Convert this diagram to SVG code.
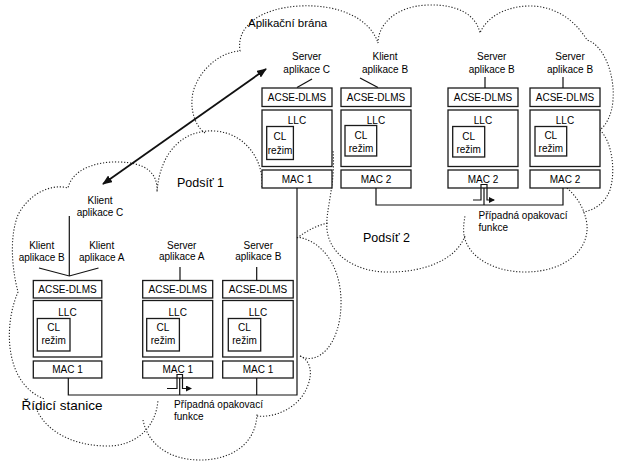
<svg xmlns="http://www.w3.org/2000/svg" width="623" height="469" viewBox="0 0 623 469">
<defs>
<marker id="ah" viewBox="0 0 10 8" refX="9" refY="4" markerWidth="10" markerHeight="8" markerUnits="userSpaceOnUse" orient="auto-start-reverse"><path d="M0,0 L10,4 L0,8 z" fill="#111"/></marker>
<marker id="sa" viewBox="0 0 6 6" refX="5" refY="3" markerWidth="6" markerHeight="6" markerUnits="userSpaceOnUse" orient="auto"><path d="M0,0 L6,3 L0,6 z" fill="#111"/></marker>
</defs>
<style>
.cloud{fill:none;stroke:#222;stroke-width:1.1;stroke-dasharray:1.2 1.8;}
.box{fill:#fff;stroke:#1a1a1a;stroke-width:1.3;}
.ln{fill:none;stroke:#111;stroke-width:1.2;}
.arr{fill:none;stroke:#111;stroke-width:1.8;}
text{font-family:"Liberation Sans",Arial,sans-serif;fill:#000;}
.s{font-size:10px;text-anchor:middle;}
.l{font-size:10px;}
.h{font-size:12.5px;}
</style>
<rect width="623" height="469" fill="#fff"/>
<g id="clouds">
<path class="cloud" d="M205,133 C192,124 188,100 196,84 C204,66 222,52 240,51 C236,25 262,8 300,6 C338,4 370,18 378,43 C378,25 395,6 428,5 C458,4 476,15 480,33 C486,18 505,6 530,6 C555,6 575,20 587,40 C604,45 615,75 613,100 C612,115 606,125 600,130 C612,142 616,170 610,190 C605,203 595,210 583,212"/>
<path class="cloud" d="M567,188 C576,196 585,208 587,225 C589,250 565,272 525,272 C495,272 468,258 464,235 C463,228 464,222 465,216"/>
<path class="cloud" d="M465,236 C455,262 420,273 385,272 C355,271 330,255 327,230 C325,210 336,185 333,150"/>
<path class="cloud" d="M297,238 C308,230 318,225 328,223"/>
<path class="cloud" d="M300,356 C318,366 340,345 341,305 C342,270 325,242 298,237"/>
<path class="cloud" d="M262,187 C264,160 245,133 215,131 C185,129 160,150 157,192 C158,172 145,163 120,162 C95,161 72,170 68,188 C50,183 28,195 18,215 C10,235 11,265 18,292 C8,315 5,350 18,375 C25,388 35,396 45,399"/>
<path class="cloud" d="M36,408 C45,430 70,445 105,446 C135,447 156,428 158,400"/>
<path class="cloud" d="M143,420 C148,445 170,460 200,460 C230,460 256,445 257,414"/>
<path class="cloud" d="M257,416 C275,418 300,408 308,385 C313,372 310,360 300,356"/>
</g>
<g id="cloud-labels">
<text class="h" x="248" y="27" style="font-size:11.5px">Aplikační brána</text>
<text class="h" x="177" y="187">Podsíť 1</text>
<text class="h" x="363" y="241.5">Podsíť 2</text>
<text class="h" x="21.5" y="410" style="font-size:13.5px">Řídicí stanice</text>
<text class="l" x="174" y="407.5">Případná opakovací</text>
<text class="l" x="174" y="419.5">funkce</text>
<text class="l" x="478.5" y="218.5">Případná opakovací</text>
<text class="l" x="478.5" y="230.5">funkce</text>
</g>
<g id="gw-server-c">
<text class="s" x="306.7" y="60">Server</text>
<text class="s" x="306.7" y="73">aplikace C</text>
<rect class="box" x="262" y="88" width="70" height="18.5"/>
<rect class="box" x="262" y="110" width="70" height="56.5"/>
<rect class="box" x="266.7" y="126.5" width="26.7" height="33"/>
<rect class="box" x="262" y="170" width="70" height="18"/>
<text class="s" x="297" y="100.8">ACSE-DLMS</text>
<text class="s" x="297" y="124">LLC</text>
<text class="s" x="280" y="140">CL</text>
<text class="s" x="280" y="153.5">režim</text>
<text class="s" x="297" y="182.5">MAC 1</text>
</g>
<g id="gw-client-b">
<text class="s" x="385" y="60">Klient</text>
<text class="s" x="385" y="73">aplikace B</text>
<rect class="box" x="341" y="88" width="70" height="18.5"/>
<rect class="box" x="341" y="110" width="70" height="56.5"/>
<rect class="box" x="345" y="125.5" width="31.7" height="30.5"/>
<rect class="box" x="341" y="170" width="70" height="18"/>
<text class="s" x="376" y="100.8">ACSE-DLMS</text>
<text class="s" x="376" y="124">LLC</text>
<text class="s" x="361" y="138.5">CL</text>
<text class="s" x="361" y="151.5">režim</text>
<text class="s" x="376" y="182.5">MAC 2</text>
</g>
<g id="sub2-server-b1">
<text class="s" x="491.7" y="60">Server</text>
<text class="s" x="491.7" y="73">aplikace B</text>
<rect class="box" x="448" y="88" width="70" height="18.5"/>
<rect class="box" x="448" y="110" width="70" height="56.5"/>
<rect class="box" x="452.7" y="126.5" width="32" height="30.5"/>
<rect class="box" x="448" y="170" width="70" height="18"/>
<text class="s" x="483" y="100.8">ACSE-DLMS</text>
<text class="s" x="483" y="124">LLC</text>
<text class="s" x="468.7" y="139.5">CL</text>
<text class="s" x="468.7" y="152.5">režim</text>
<text class="s" x="483" y="182.5">MAC 2</text>
</g>
<g id="sub2-server-b2">
<text class="s" x="570" y="60">Server</text>
<text class="s" x="570" y="73">aplikace B</text>
<rect class="box" x="530" y="88" width="70" height="18.5"/>
<rect class="box" x="530" y="110" width="70" height="56.5"/>
<rect class="box" x="535" y="126.5" width="31.7" height="29.5"/>
<rect class="box" x="530" y="170" width="70" height="18"/>
<text class="s" x="565" y="100.8">ACSE-DLMS</text>
<text class="s" x="565" y="124">LLC</text>
<text class="s" x="550.8" y="139">CL</text>
<text class="s" x="550.8" y="152">režim</text>
<text class="s" x="565" y="182.5">MAC 2</text>
</g>
<g id="station-clients">
<text class="s" x="100" y="204">Klient</text>
<text class="s" x="100" y="215.5">aplikace C</text>
<text class="s" x="41.7" y="249">Klient</text>
<text class="s" x="41.7" y="260.5">aplikace B</text>
<text class="s" x="101.7" y="249">Klient</text>
<text class="s" x="101.7" y="260.5">aplikace A</text>
<rect class="box" x="33.3" y="280.5" width="68.5" height="17.5"/>
<rect class="box" x="33.3" y="300.5" width="68.5" height="56.5"/>
<rect class="box" x="37.3" y="318.5" width="32.7" height="32.5"/>
<rect class="box" x="33.3" y="361" width="68.5" height="17"/>
<text class="s" x="67.5" y="292.8">ACSE-DLMS</text>
<text class="s" x="67.5" y="315.5">LLC</text>
<text class="s" x="53.7" y="330.5">CL</text>
<text class="s" x="53.7" y="343.5">režim</text>
<text class="s" x="67.5" y="373">MAC 1</text>
</g>
<g id="sub1-server-a">
<text class="s" x="181.7" y="248.5">Server</text>
<text class="s" x="181.7" y="260">aplikace A</text>
<rect class="box" x="142.7" y="280.5" width="70" height="17.5"/>
<rect class="box" x="142.7" y="300.5" width="70" height="56.5"/>
<rect class="box" x="146.7" y="318.5" width="32.7" height="32.5"/>
<rect class="box" x="142.7" y="361" width="70" height="17"/>
<text class="s" x="177.7" y="292.8">ACSE-DLMS</text>
<text class="s" x="177.7" y="315.5">LLC</text>
<text class="s" x="163" y="330.5">CL</text>
<text class="s" x="163" y="343.5">režim</text>
<text class="s" x="177.7" y="373">MAC 1</text>
</g>
<g id="sub1-server-b">
<text class="s" x="258.3" y="248.5">Server</text>
<text class="s" x="258.3" y="260">aplikace B</text>
<rect class="box" x="222.7" y="280.5" width="70.5" height="17.5"/>
<rect class="box" x="222.7" y="300.5" width="70.5" height="56.5"/>
<rect class="box" x="228.3" y="318.5" width="32.4" height="32.5"/>
<rect class="box" x="222.7" y="361" width="70.5" height="17"/>
<text class="s" x="258" y="292.8">ACSE-DLMS</text>
<text class="s" x="258" y="315.5">LLC</text>
<text class="s" x="244.5" y="330.5">CL</text>
<text class="s" x="244.5" y="343.5">režim</text>
<text class="s" x="258" y="373">MAC 1</text>
</g>
<g id="connectors">
<line class="ln" x1="297" y1="87.5" x2="312" y2="79"/>
<line class="ln" x1="360" y1="78" x2="378" y2="87.5"/>
<line class="ln" x1="485" y1="77" x2="485" y2="88"/>
<line class="ln" x1="563" y1="77" x2="563" y2="88"/>
<line class="ln" x1="69.3" y1="216" x2="69.3" y2="276"/>
<path class="ln" d="M39,268 L69.3,276 L98.5,268"/>
<line class="ln" x1="180" y1="267" x2="180" y2="280.5"/>
<line class="ln" x1="256.7" y1="267" x2="256.7" y2="280.5"/>
<path class="ln" d="M376,188 V205 H563 V188"/>
<line class="ln" x1="484" y1="188" x2="484" y2="205"/>
<path class="ln" d="M473,200 H481 V184.5 H487 V200 H494" marker-end="url(#sa)"/>
<path class="ln" d="M68.3,378 V395 H297 V188"/>
<line class="ln" x1="256.7" y1="378" x2="256.7" y2="395"/>
<line class="ln" x1="179.7" y1="378" x2="179.7" y2="395"/>
<path class="ln" d="M167,388.5 H177 V374.5 H182.5 V388.5 H191" marker-end="url(#sa)"/>
<path class="arr" d="M103,184 L266,69" marker-start="url(#ah)" marker-end="url(#ah)"/>
</g>
</svg>
